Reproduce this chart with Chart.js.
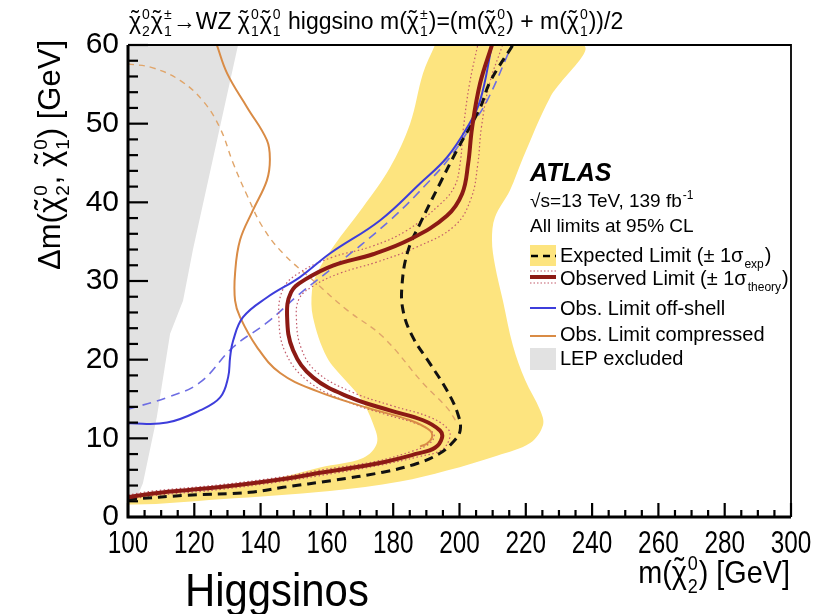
<!DOCTYPE html>
<html>
<head>
<meta charset="utf-8">
<script src="https://cdn.jsdelivr.net/npm/chart.js@4.4.1/dist/chart.umd.min.js"></script>
<style>
  body { margin: 0; background: #fff; }
  #plot { display: block; }
</style>
</head>
<body>
<canvas id="plot" width="827" height="614"></canvas>
<script>
// values: [m(chi2), delta m] pairs
const expectedBand = [
    [192.6, 60], [189.0, 56.4], [185.1, 50.0], [179.0, 44.4], [170.9, 39.4], [161.8, 34.3],
    [157.0, 31.0], [155.5, 28.8], [155.8, 25.4], [160.0, 20.3], [165.5, 17.4], [170.0, 15.2],
    [173.9, 11.9], [175.1, 9.4], [170.9, 7.5], [157.9, 6.3], [142.8, 4.7], [127.8, 3.6],
    [107.5, 2.8], [100, 2.5], [100, 1.6], [127.8, 2.25], [160.9, 3.3], [182.1, 4.5],
    [196.2, 5.9], [211.3, 7.8], [221.3, 9.4], [225.2, 11.7], [224.3, 13.6], [219.8, 17.4],
    [216.1, 21.8], [213.1, 27.5], [210.7, 32.0], [209.8, 35.2], [210.7, 38.1], [215.2, 41.5],
    [219.2, 45.7], [227.3, 53.3], [237.3, 60], [192.6, 60]
];
const lepExcluded = [
    [100, 60], [133.2, 60], [119.6, 34.0], [116.6, 27.5], [112.7, 23.3], [108.7, 12.7],
    [104.5, 4.3], [102.7, 2.5], [100, 2.1], [100, 60]
];
const expectedLimit = [
    [100, 2.2], [100.6, 2.25], [117.8, 2.76], [136.8, 3.14], [146.8, 3.77], [161.8, 4.66],
    [176.9, 5.7], [187.2, 6.8], [194.1, 8.1], [198.0, 9.5], [200.2, 11.0], [199.5, 13.1],
    [196.2, 16.1], [191.1, 19.5], [186.0, 22.8], [183.0, 26.2], [182.7, 29.7], [184.5, 33.9],
    [188.1, 37.3], [194.1, 42.4], [199.2, 46.6], [206.2, 52.0], [209.2, 55.3], [216.1, 60]
];
const observedLimit = [
    [100, 2.5], [107.5, 3.0], [127.8, 3.8], [148.0, 4.9], [157.0, 5.55], [175.1, 6.8],
    [187.2, 8.05], [192.6, 8.8], [194.7, 10.05], [194.1, 11.0], [189.0, 12.3], [179.0, 13.55],
    [167.0, 15.2], [155.8, 17.75], [149.8, 21.2], [148.0, 25.4], [149.2, 28.6], [153.5, 30.2],
    [162.0, 32.0], [173.9, 33.4], [185.1, 35.3], [196.2, 38.3], [200.8, 41.1], [202.6, 44.9],
    [203.8, 49.5], [206.2, 55.1], [209.8, 60]
];
const theoryUp = [
    [100, 2.8], [107.5, 3.3], [127.8, 4.1], [148, 5.2], [157, 5.9], [175, 7.1], [186, 8.4],
    [190.5, 9.2], [192.3, 10.1], [191.8, 10.8], [187.5, 11.8], [178, 13.0], [166.5, 14.6],
    [154.5, 17.2], [147.5, 20.9], [145.5, 25.4], [146.8, 29.0], [151.5, 31.0], [161.5, 33.0],
    [173.5, 34.4], [184, 36.4], [194, 39.7], [198.5, 42.0], [200.2, 45.0], [201.2, 49.5],
    [203, 55], [205.5, 60]
];
const theoryDown = [
    [100, 2.2], [107.5, 2.7], [127.8, 3.5], [148, 4.6], [157, 5.2], [175, 6.5], [188, 7.7],
    [194.5, 8.5], [197, 10.0], [196.5, 11.2], [191, 12.7], [180, 14.1], [167.5, 15.9],
    [157, 18.4], [152.3, 21.4], [150.8, 25.2], [151.7, 27.8], [156, 29.4], [164, 31.0],
    [175, 32.4], [187, 34.3], [198.5, 37.0], [203.5, 40.5], [205.5, 44.8], [206.6, 49.5],
    [209, 55], [213, 60]
];
const offShellObs = [
    [100, 11.9], [111.8, 12.0], [121.7, 13.55], [127.8, 15.2], [130.2, 17.75], [130.8, 20.3],
    [131.7, 22.4], [134.7, 25.4], [141.9, 27.9], [151.9, 30.5], [160.9, 33.5], [176.0, 37.7],
    [188.1, 42.4], [196.2, 45.7], [202.3, 49.5], [206.2, 52.9], [209.8, 60]
];
const offShellExp = [
    [100, 13.7], [111.8, 15.2], [121.7, 17.1], [131.7, 21.6], [141.9, 24.7], [151.9, 28.4],
    [161.8, 31.7], [179.0, 37.7], [191.1, 42.8], [198.0, 46.2], [203.2, 49.5], [208.3, 52.9],
    [215.8, 60]
];
const compressedObs = [
    [126.8, 60], [129.9, 56.4], [135.9, 52.1], [141.9, 47.9], [142.8, 45.4], [141.9, 42.8],
    [137.7, 39.0], [133.8, 35.2], [132.3, 31.0], [132.3, 27.5], [133.8, 25.4], [138.9, 21.6],
    [145.9, 18.3], [157.0, 16.0], [172.1, 13.9], [185.1, 12.3], [191.1, 11.0], [191.7, 10.1],
    [190.2, 9.35], [188.1, 8.95]
];
const compressedExp = [
    [100, 57.6], [107.5, 57.1], [115.7, 55.5], [122.6, 52.9], [127.8, 49.4], [131.7, 45.0],
    [135.9, 40.9], [140.7, 36.8], [146.8, 33.5], [155.8, 30.1], [166.1, 26.3], [176.9, 22.9],
    [189.0, 17.0], [196.2, 13.9], [199.2, 12.0]
];
const legendLabels = ['Expected Limit (\u00b1 1\u03c3', 'Observed Limit (\u00b1 1\u03c3',
    'Obs. Limit off-shell', 'Obs. Limit compressed', 'LEP excluded'];

const SANS = '"Liberation Sans", Arial, sans-serif';

function pts(arr) {
    return arr.map(p => ({x: p[0], y: p[1]}));
}

function chi(sup, sub) {
    return {c: '\u03c7', tilde: true, sup: sup, sub: sub};
}

// text with stacked super/subscripts, returns width
function drawRich(ctx, parts, x, y, size, family) {
    let cx = x;
    ctx.textAlign = 'left';
    ctx.textBaseline = 'alphabetic';
    for (const p of parts) {
        ctx.font = size + 'px ' + family;
        if (typeof p === 'string') {
            ctx.fillText(p, cx, y);
            cx += ctx.measureText(p).width;
            continue;
        }
        let w = 0;
        if (p.c) {
            w = ctx.measureText(p.c).width;
            ctx.fillText(p.c, cx, y);
            if (p.tilde) {
                ctx.textAlign = 'center';
                ctx.fillText('\u02dc', cx + w / 2, y - size * 0.1);
                ctx.textAlign = 'left';
            }
        }
        cx += w;
        const small = Math.round(size * 0.62);
        ctx.font = small + 'px ' + family;
        let sw = 0;
        if (p.sup) {
            ctx.fillText(p.sup, cx + 1, y - size * 0.42);
            sw = Math.max(sw, ctx.measureText(p.sup).width);
        }
        if (p.sub) {
            ctx.fillText(p.sub, cx + 1, y + size * 0.3);
            sw = Math.max(sw, ctx.measureText(p.sub).width);
        }
        cx += sw + 2;
    }
    return cx - x;
}

function richWidth(ctx, parts, size, family) {
    ctx.save();
    ctx.globalAlpha = 0;
    const w = drawRich(ctx, parts, 0, 0, size, family);
    ctx.restore();
    return w;
}

// the x side of the picture uses squeezed lettering
function drawSqueezed(ctx, parts, x, y, size, sx) {
    ctx.save();
    ctx.translate(x, y);
    ctx.scale(sx, 1);
    drawRich(ctx, parts, 0, 0, size, SANS);
    ctx.restore();
}

const atlasDecor = {
    id: 'atlasDecor',
    afterDatasetsDraw(chart) {
        const ctx = chart.ctx;
        const xs = chart.scales.x, ys = chart.scales.y;
        const a = chart.chartArea;
        ctx.save();
        ctx.strokeStyle = '#000';
        // ticks pointing inwards
        ctx.lineWidth = 2.2;
        for (let v = 100; v <= 300; v += 5) {
            const px = xs.getPixelForValue(v);
            const len = v % 20 === 0 ? 14 : 7;
            ctx.beginPath();
            ctx.moveTo(px, a.bottom);
            ctx.lineTo(px, a.bottom - len);
            ctx.stroke();
        }
        for (let v = 0; v <= 60; v += 2) {
            const py = ys.getPixelForValue(v);
            const len = v % 10 === 0 ? 20 : 10;
            ctx.beginPath();
            ctx.moveTo(a.left, py);
            ctx.lineTo(a.left + len, py);
            ctx.stroke();
        }
        // frame
        ctx.lineWidth = 1.8;
        ctx.beginPath();
        ctx.moveTo(a.left, a.top);
        ctx.lineTo(a.right, a.top);
        ctx.lineTo(a.right, a.bottom);
        ctx.stroke();
        ctx.lineWidth = 3;
        ctx.beginPath();
        ctx.moveTo(a.left, a.top);
        ctx.lineTo(a.left, a.bottom);
        ctx.lineTo(a.right, a.bottom);
        ctx.stroke();

        // x tick labels from the scale's own ticks
        ctx.fillStyle = '#000';
        ctx.font = '32px ' + SANS;
        for (const t of xs.ticks) {
            const label = String(t.value);
            const w = ctx.measureText(label).width * 0.76;
            ctx.save();
            ctx.translate(xs.getPixelForValue(t.value) - w / 2, a.bottom + 36);
            ctx.scale(0.76, 1);
            ctx.fillText(label, 0, 0);
            ctx.restore();
        }
        ctx.restore();
    },
    afterDraw(chart) {
        const ctx = chart.ctx;
        ctx.save();
        ctx.fillStyle = '#000';

        // title line
        drawRich(ctx, [chi('0', '2'), chi('\u00b1', '1'), '\u2192WZ ', chi('0', '1'), chi('0', '1'),
            ' higgsino m(', chi('\u00b1', '1'), ')=(m(', chi('0', '2'), ') + m(', chi('0', '1'), '))/2'],
            129, 29, 23, SANS);

        // y title, rotated
        const yParts = ['\u0394m(', chi('0', '2'), ', ', chi('0', '1'), ') [GeV]'];
        const yw = richWidth(ctx, yParts, 31, SANS);
        ctx.save();
        ctx.translate(60, 40 + yw);
        ctx.rotate(-Math.PI / 2);
        drawRich(ctx, yParts, 0, 0, 31, SANS);
        ctx.restore();

        // x title
        const xParts = ['m(', chi('0', '2'), ') [GeV]'];
        const xw = richWidth(ctx, xParts, 32, SANS) * 0.9;
        drawSqueezed(ctx, xParts, 790 - xw, 583, 32, 0.9);

        drawSqueezed(ctx, ['Higgsinos'], 185, 606, 46, 0.91);

        // ATLAS block
        ctx.font = 'italic bold 25px ' + SANS;
        ctx.fillText('ATLAS', 530, 181);
        drawRich(ctx, ['\u221as=13 TeV, 139 fb', {sup: '-1'}], 530, 207, 19, SANS);
        drawRich(ctx, ['All limits at 95% CL'], 530, 232, 19, SANS);

        // legend symbols
        const lx0 = 530, lx1 = 556;
        ctx.fillStyle = '#fde47f';
        ctx.fillRect(lx0, 245, lx1 - lx0, 21);
        ctx.strokeStyle = '#000';
        ctx.lineWidth = 2.5;
        ctx.setLineDash([7, 5]);
        ctx.beginPath(); ctx.moveTo(lx0 + 1, 256); ctx.lineTo(lx1, 256); ctx.stroke();

        ctx.strokeStyle = '#c25a6a';
        ctx.lineWidth = 1.2;
        ctx.setLineDash([1.5, 2]);
        ctx.beginPath(); ctx.moveTo(lx0, 271); ctx.lineTo(lx1, 271); ctx.stroke();
        ctx.beginPath(); ctx.moveTo(lx0, 283); ctx.lineTo(lx1, 283); ctx.stroke();
        ctx.setLineDash([]);
        ctx.strokeStyle = '#8c1a14';
        ctx.lineWidth = 4;
        ctx.beginPath(); ctx.moveTo(lx0, 277); ctx.lineTo(lx1, 277); ctx.stroke();

        ctx.strokeStyle = '#3d3ddb';
        ctx.lineWidth = 2;
        ctx.beginPath(); ctx.moveTo(lx0, 308); ctx.lineTo(lx1, 308); ctx.stroke();
        ctx.strokeStyle = '#d98b45';
        ctx.beginPath(); ctx.moveTo(lx0, 336); ctx.lineTo(lx1, 336); ctx.stroke();
        ctx.fillStyle = '#e2e2e2';
        ctx.fillRect(lx0, 348, lx1 - lx0, 22);

        ctx.fillStyle = '#000';
        drawRich(ctx, [legendLabels[0], {sub: 'exp'}, ')'], 560, 262, 20, SANS);
        drawRich(ctx, [legendLabels[1], {sub: 'theory'}, ')'], 560, 285, 20, SANS);
        drawRich(ctx, [legendLabels[2]], 560, 315, 20, SANS);
        drawRich(ctx, [legendLabels[3]], 560, 341, 20, SANS);
        drawRich(ctx, [legendLabels[4]], 560, 365, 20, SANS);
        ctx.restore();
    }
};

function curve(data, color, width, dash, order, tension) {
    return {
        data: pts(data),
        showLine: true,
        borderColor: color,
        borderWidth: width,
        borderDash: dash,
        pointRadius: 0,
        fill: false,
        tension: tension === undefined ? 0.4 : tension,
        order: order
    };
}

const bandSet = curve(expectedBand, 'rgba(0,0,0,0)', 0, [], 20, 0.35);
bandSet.fill = 'shape';
bandSet.backgroundColor = '#fde47f';
const lepSet = curve(lepExcluded, 'rgba(0,0,0,0)', 0, [], 19, 0);
lepSet.fill = 'shape';
lepSet.backgroundColor = '#e2e2e2';

new Chart(document.getElementById('plot'), {
    type: 'scatter',
    data: {
        datasets: [
            bandSet,
            lepSet,
            curve(compressedExp, '#e0a56a', 1.4, [6, 5], 9),
            curve(offShellExp, '#6d6de3', 1.6, [9, 6], 8),
            curve(theoryUp, '#c25a6a', 1.2, [1.5, 2.5], 7),
            curve(theoryDown, '#c25a6a', 1.2, [1.5, 2.5], 7),
            curve(expectedLimit, '#111', 3, [9, 6], 5),
            curve(compressedObs, '#d98b45', 2, [], 4),
            curve(offShellObs, '#3d3ddb', 2, [], 3),
            curve(observedLimit, '#8c1a14', 4, [], 1)
        ]
    },
    options: {
        responsive: false,
        animation: false,
        layout: {padding: {top: 45, right: 36, left: 0, bottom: 0}},
        plugins: {
            legend: {display: false},
            tooltip: {enabled: false}
        },
        scales: {
            x: {
                type: 'linear',
                min: 100,
                max: 300,
                grid: {display: false, drawTicks: false},
                border: {display: false},
                ticks: {stepSize: 20, display: false},
                afterFit: s => { s.height = 97; }
            },
            y: {
                min: 0,
                max: 60,
                grid: {display: false, drawTicks: false},
                border: {display: false},
                ticks: {stepSize: 10, color: '#000', padding: 9, font: {family: SANS, size: 30}},
                afterFit: s => { s.width = 128; }
            }
        }
    },
    plugins: [atlasDecor]
});
</script>
</body>
</html>
